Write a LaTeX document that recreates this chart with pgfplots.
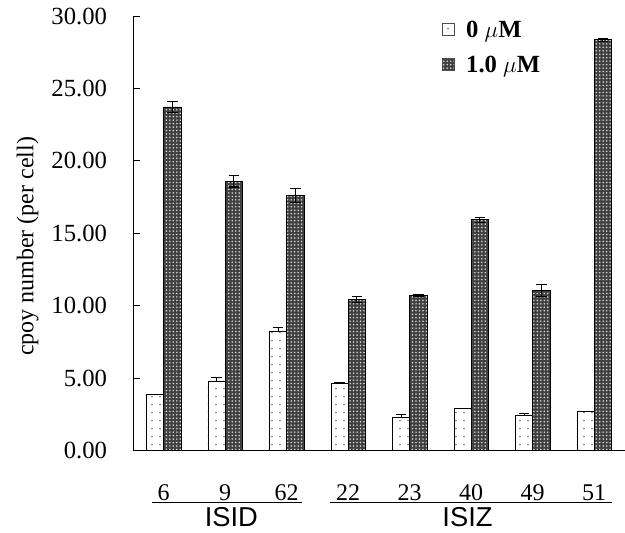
\documentclass[border=0pt]{standalone}
\usepackage{pgfplots}
\pgfplotsset{compat=1.18}
\usepackage{fontspec}
\setmainfont{Liberation Serif}
\newfontfamily\sansf{Liberation Sans}
\usetikzlibrary{patterns,patterns.meta}
\pgfplotstableread{
x  a     ae    b      be
0  3.85  0.05  23.72  0.40
1  4.81  0.25  18.60  0.40
2  8.21  0.30  17.62  0.50
3  4.67  0.05  10.44  0.20
4  2.32  0.15  10.72  0.05
5  2.89  0.05  15.93  0.15
6  2.46  0.10  11.05  0.40
7  2.70  0.03  28.36  0.10
}\data
\begin{document}
\begin{tikzpicture}
\begin{axis}[
  name=ax,
  at={(0,0)}, anchor=south west,
  scale only axis,
  width=369pt, height=326pt,
  xmin=-0.5, xmax=7.5, ymin=0, ymax=30,
  axis x line=bottom, axis y line=left,
  axis line style={-, line width=0.7pt},
  ybar, bar width=13pt, ybar=0pt,
  xtick={0,...,7},
  xticklabels={6,9,62,22,23,40,49,51},
  major x tick style={draw=none},
  extra x ticks={0.5,1.5,2.5,3.5,4.5,5.5,6.5},
  extra x tick labels={},
  extra x tick style={major tick length=5pt, tick align=inside, tick style={black, line width=0.7pt}},
  xticklabel style={font=\fontsize{18}{18}\selectfont, anchor=base, yshift=-37pt},
  ytick={0,5,...,30},
  yticklabel style={font=\fontsize{18.5}{18.5}\selectfont, anchor=east, xshift=-16pt},
  /pgf/number format/assume math mode=true,
  /pgf/number format/.cd, fixed, fixed zerofill, precision=2,
  /pgfplots/.cd,
  ytick style={black, line width=0.7pt},
  tick align=inside, major tick length=5pt,
  ylabel={cpoy number (per cell)},
  ylabel style={font=\fontsize{18}{18}\selectfont, at={(rel axis cs:-0.214,0.47)}, anchor=center},
  clip=false,
  legend cell align=left,
  legend style={draw=none, fill=none, at={(rel axis cs:0.628,0.995)}, anchor=north west,
    font=\fontsize{18.5}{18.5}\selectfont\bfseries, row sep=8.5pt, inner sep=0pt,
    /tikz/every odd column/.append style={column sep=7pt}},
  legend image code/.code={\draw[#1, draw=black!70, line width=0.5pt] (0pt,-3.5pt) rectangle (8.5pt,5pt);},
]
\addplot[draw=black, line width=0.6pt, fill=white,
  postaction={pattern={Dots[distance=6pt, radius=0.55pt]}, pattern color=black!80},
  error bars/.cd, y dir=plus, y explicit, error bar style={black, line width=0.8pt},
  error mark options={rotate=90, mark size=4pt, black, line width=0.8pt}]
  table[x=x, y=a, y error=ae] {\data};
\addlegendentry{0 $\mu$M}
\addplot[draw=black, line width=0.6pt, fill=black!75,
  postaction={pattern={Dots[distance=2.6pt, radius=0.65pt]}, pattern color=white!85!black},
  error bars/.cd, y dir=both, y explicit, error bar style={black, line width=0.8pt},
  error mark options={rotate=90, mark size=4pt, black, line width=0.8pt}]
  table[x=x, y=b, y error=be] {\data};
\addlegendentry{1.0 $\mu$M}
\draw[line width=0.7pt] ([yshift=-39pt]axis cs:-0.19,0) -- ([yshift=-39pt]axis cs:2.24,0);
\draw[line width=0.7pt] ([yshift=-39pt]axis cs:2.71,0) -- ([yshift=-39pt]axis cs:7.29,0);
\node[font=\sansf\fontsize{20.5}{20.5}\selectfont, anchor=north, inner sep=0pt] at ([yshift=-42pt]axis cs:1.1,0) {ISID};
\node[font=\sansf\fontsize{20.5}{20.5}\selectfont, anchor=north, inner sep=0pt] at ([yshift=-42pt]axis cs:4.94,0) {ISIZ};
\end{axis}
\pgfresetboundingbox
\path (-99.75pt,-61.5pt) rectangle (369pt,338pt);
\end{tikzpicture}
\end{document}
